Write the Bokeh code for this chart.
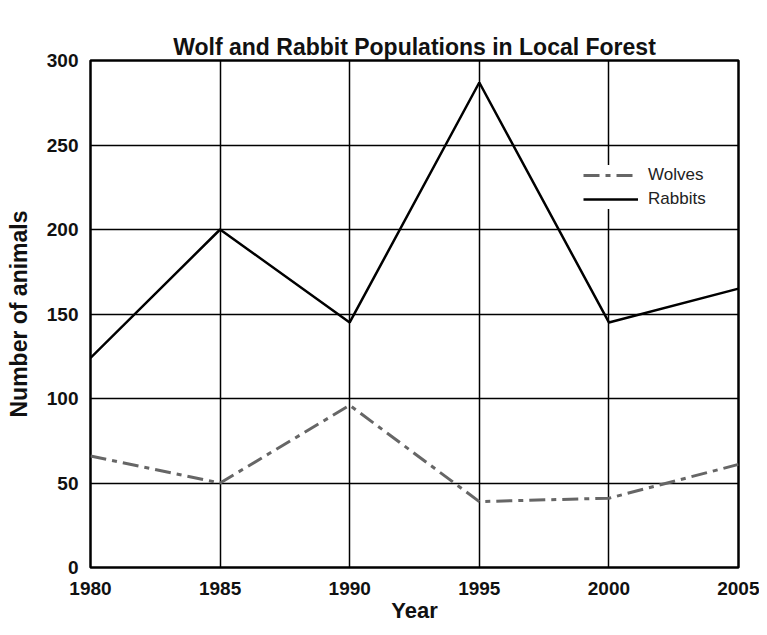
from bokeh.plotting import figure
from bokeh.models import Range1d, FixedTicker, Legend, LegendItem, Title
from bokeh.embed import file_html
from bokeh.resources import INLINE

years = [1980, 1985, 1990, 1995, 2000, 2005]
rabbits = [124, 200, 145, 287, 145, 165]
wolves = [66, 50, 96, 39, 41, 61]
x_ticks = [1980, 1985, 1990, 1995, 2000, 2005]
y_ticks = [0, 50, 100, 150, 200, 250, 300]
title_text = "Wolf and Rabbit Populations in Local Forest"

FONT = "Liberation Sans"

p = figure(width=759, height=627, output_backend="svg", toolbar_location=None,
           x_range=Range1d(1980, 2005), y_range=Range1d(0, 300),
           min_border_left=90, min_border_right=21, min_border_top=60, min_border_bottom=60)

# main title (outermost), then an invisible spacer between it and the frame
main_title = Title(text=title_text, text_font=FONT, text_font_size="23px",
                   text_font_style="bold", align="center", text_color="#111111", standoff=2)
p.add_layout(main_title, "above")
spacer = Title(text=" ", text_font=FONT, text_font_size="20px", text_alpha=0, standoff=2)
p.add_layout(spacer, "above")

p.outline_line_color = "black"
p.outline_line_width = 2.5
p.background_fill_color = "white"
p.border_fill_color = "white"

for ax in (p.xaxis[0], p.yaxis[0]):
    ax.axis_line_color = None
    ax.major_tick_line_color = None
    ax.minor_tick_line_color = None
    ax.major_tick_out = 0
    ax.major_tick_in = 0
    ax.minor_tick_out = 0
    ax.minor_tick_in = 0
    ax.major_label_text_font = FONT
    ax.major_label_text_font_size = "19px"
    ax.major_label_text_font_style = "bold"
    ax.major_label_text_color = "#111111"
    ax.axis_label_text_font = FONT
    ax.axis_label_text_font_size = "22px"
    ax.axis_label_text_font_style = "bold"
    ax.axis_label_text_color = "#111111"

p.yaxis.axis_label_text_font_size = "23px"
p.xaxis.ticker = FixedTicker(ticks=x_ticks)
p.yaxis.ticker = FixedTicker(ticks=y_ticks)
p.xaxis.axis_label = "Year"
p.yaxis.axis_label = "Number of animals"
p.xaxis.major_label_standoff = 14
p.yaxis.major_label_standoff = 12
p.xaxis.axis_label_standoff = 0
p.yaxis.axis_label_standoff = 12

p.xgrid.ticker = FixedTicker(ticks=x_ticks)
p.ygrid.ticker = FixedTicker(ticks=y_ticks)
for g in (p.xgrid[0], p.ygrid[0]):
    g.grid_line_color = "black"
    g.grid_line_width = 1.5

r_w = p.line(years, wolves, line_color="#666666", line_width=3, line_dash="16 6 5 6")
r_r = p.line(years, rabbits, line_color="black", line_width=2.5)

legend = Legend(items=[LegendItem(label="Wolves", renderers=[r_w]),
                       LegendItem(label="Rabbits", renderers=[r_r])],
                location=(493, 358))
legend.border_line_color = None
legend.background_fill_alpha = 1.0
legend.label_text_font = FONT
legend.label_text_font_size = "17px"
legend.label_text_color = "#222222"
legend.glyph_width = 55
legend.spacing = 4
legend.padding = 4
legend.label_standoff = 10
p.add_layout(legend, "center")

open("out.html", "w").write(file_html(p, INLINE))
